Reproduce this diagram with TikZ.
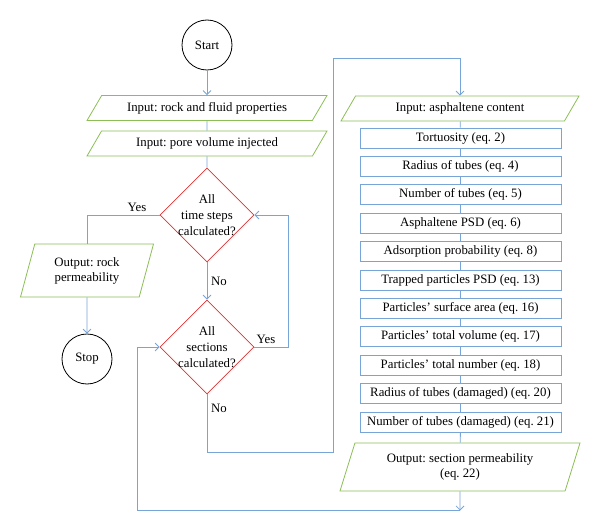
\documentclass[tikz,border=0pt]{standalone}
\usepackage{fontspec}
\setmainfont{Liberation Serif}
\frenchspacing
\usetikzlibrary{shapes.geometric,arrows.meta}
\definecolor{iogreen}{RGB}{140,190,85}
\definecolor{decred}{RGB}{225,50,50}
\definecolor{linkblue}{RGB}{120,165,215}

\begin{document}
\begin{tikzpicture}
	[x=1pt, y=-1pt, line width=0.8pt,
	every node/.style={font=\fontsize{12.8}{15}\selectfont,inner sep=2pt},
	term/.style={circle,draw=black,minimum size=50pt},
	io/.style={trapezium,trapezium left angle=#1,trapezium right angle={180-#1},
		trapezium stretches body,draw=iogreen,align=center},
	calc/.style={rectangle,draw=linkblue,minimum width=201pt,minimum height=20pt},
	decision/.style={diamond,draw=decred,minimum size=94pt,inner sep=-4pt,align=center,
		font=\fontsize{12.8}{16}\selectfont},
	link/.style={draw=linkblue},
	arr/.style={link,-{Straight Barb[length=4pt,width=8pt]}}]
	\useasboundingbox (0,0) rectangle (600,532);
	% left column
	\node [term] (start) at (207,45) {Start};
	\node [io=47,minimum width=240pt,minimum height=25pt] (rock) at (207,108) {Input: rock and fluid properties};
	\node [io=47,minimum width=240pt,minimum height=25pt] (pore) at (207,143.5) {Input: pore volume injected};
	\node [decision] (steps) at (207,215) {All\\time steps\\calculated?};
	\node [decision] (sect) at (207,347) {All\\sections\\calculated?};
	\node [io=65,minimum width=133pt,minimum height=53pt] (outrock) at (87,270.5) {Output: rock\\permeability};
	\node [term] (stop) at (87,359) {Stop};
	% right column
	\node [io=47,minimum width=238pt,minimum height=25pt] (asph) at (460,108.5) {Input: asphaltene content};
	\foreach \lbl [count=\i] in {Tortuosity (eq. 2),Radius of tubes (eq. 4),Number of tubes (eq. 5),
		Asphaltene PSD (eq. 6),Adsorption probability (eq. 8),Trapped particles PSD (eq. 13),
		Particles’ surface area (eq. 16),Particles’ total volume (eq. 17),Particles’ total number (eq. 18),
		Radius of tubes (damaged) (eq. 20),Number of tubes (damaged) (eq. 21)}
		\node [calc] (eq\i) at (460.5,{138+28.4*(\i-1)}) {\lbl};
	\node [io=64,minimum width=240pt,minimum height=48pt] (outsec) at (460,467) {Output: section permeability\\(eq. 22)};
	% labels
	\node (yes1) at (137,207) {Yes};
	\node (no1) at (219,281) {No};
	\node (yes2) at (266,339) {Yes};
	\node (no2) at (219,408) {No};
	% corners of the loops
	\coordinate (back) at (288,347);
	\coordinate (low) at (207,452);
	\coordinate (up) at (333,58);
	\coordinate (drop) at (460,510.5);
	\coordinate (left) at (137,510.5);
	% connectors
	\draw [arr] (start) -- (rock);
	\draw [link] (rock) -- (pore);
	\draw [link] (pore) -- (steps);
	\draw [link] (steps.west) -| (outrock.north);
	\draw [arr] (outrock) -- (stop);
	\draw [arr] (steps) -- (sect);
	\draw [arr] (sect.east) -- (back) |- (steps.east);
	\draw [arr] (sect.south) -- (low) -| (up) -| (asph.north);
	\draw [link] (asph) -- (eq1);
	\foreach \i in {1,...,10}{
		\pgfmathtruncatemacro\j{\i+1}
		\draw [link] (eq\i) -- (eq\j);
	}
	\draw [link] (eq11) -- (outsec);
	\draw [arr] (outsec) -- (drop);
	\draw [arr] (drop) -- (left) |- (sect.west);
\end{tikzpicture}
\end{document}
